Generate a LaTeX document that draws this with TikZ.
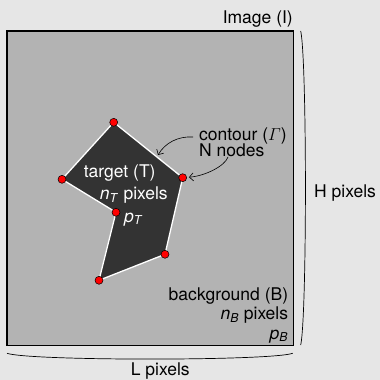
\documentclass[tikz,border=0pt]{standalone}
\usepackage{fontspec}
\usepackage{amsmath}
\setmainfont{TeX Gyre Heros}
\usetikzlibrary{arrows.meta}
\definecolor{bgc}{RGB}{230,230,230}
\definecolor{imgc}{RGB}{179,179,179}
\definecolor{tgtc}{RGB}{51,51,51}
\newcommand{\itsub}[2]{\textit{#1}\textsubscript{\textit{#2}}}
\begin{document}
\begin{tikzpicture}[x=1pt,y=-1pt,
  lbl/.style={inner sep=0pt, font=\fontsize{17.5}{18}\selectfont},
  wlbl/.style={lbl, text=white},
  vtx/.style={circle, fill=red, draw=black, line width=0.5pt, minimum size=8pt, inner sep=0pt},
  bracket/.style={draw=black, line width=0.7pt},
  pointer/.style={-{Straight Barb[length=4pt,width=8pt]}, line width=0.6pt}]
\fill[bgc] (0,0) rectangle (380,380);
\useasboundingbox (0,0) rectangle (380,380);
% image
\draw[fill=imgc, line width=1.2pt] (7,31) rectangle (293.3,345.5);
% target polygon
\coordinate (v1) at (113.7,122.3);
\coordinate (v2) at (182.7,177.7);
\coordinate (v3) at (165,254.3);
\coordinate (v4) at (99,280.3);
\coordinate (v5) at (116,212.3);
\coordinate (v6) at (62,179.3);
\filldraw[fill=tgtc, draw=white, line width=1.3pt, line join=round]
  (v1) -- (v2) -- (v3) -- (v4) -- (v5) -- (v6) -- cycle;
\foreach \i in {1,...,6} \node[vtx] (d\i) at (v\i) {};
% target labels
\node[wlbl, anchor=base] (tT) at (119.7,177) {target (T)};
\node[wlbl, anchor=base] (tn) at (133.8,199.3) {\itsub{n}{T} pixels};
\node[wlbl, anchor=base west] (tp) at (124,222) {\itsub{p}{T}};
% contour labels
\node[lbl, anchor=base west] (ct) at (199,140.7) {contour ($\varGamma$)};
\node[lbl, anchor=base west] (nn) at (199,156.7) {N nodes};
\coordinate (a1s) at (193,137);
\coordinate (a1e) at (158,155);
\coordinate (a2s) at (228,157);
\draw[pointer] (a1s) .. controls (178,136) and (165,143) .. (a1e);
\draw[pointer, shorten >=2pt] (a2s) .. controls (225,166) and (205,176) .. (d2);
% background labels
\node[lbl, anchor=base east] (bg) at (288.3,300) {background (B)};
\node[lbl, anchor=base east] (bn) at (288.3,319.3) {\itsub{n}{B} pixels};
\node[lbl, anchor=base east] (bp) at (288.3,339) {\itsub{p}{B}};
% image label and dimensions
\node[lbl, anchor=base east] (img) at (293,23.5) {Image (I)};
\node[lbl, anchor=base west] (hp) at (314,197.3) {H pixels};
\node[lbl, anchor=base] (lp) at (160.3,375.7) {L pixels};
\draw[bracket] (300.7,31) .. controls (307,60) and (307,316) .. (300.7,345);
\draw[bracket] (7,353.3) .. controls (30,361) and (270,361) .. (292.7,353.3);
\end{tikzpicture}
\end{document}
